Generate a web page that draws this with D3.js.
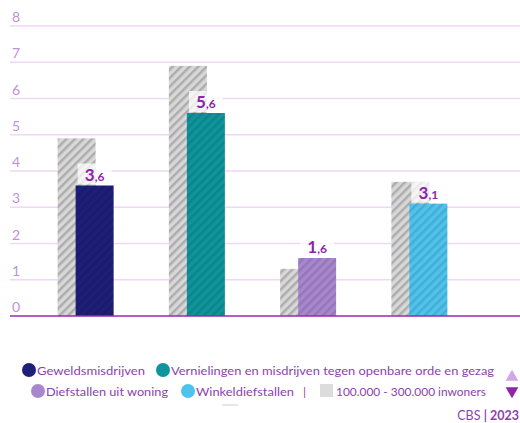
<!DOCTYPE html>
<html><head><meta charset="utf-8">
<script src="https://cdn.jsdelivr.net/npm/d3@7"></script>
<style>
body{margin:0;background:#fff;}
svg{display:block;font-family:Lato, "Open Sans", sans-serif;}
</style></head>
<body>
<svg id="c" width="520" height="423"></svg>
<script>
const categories = ["Geweldsmisdrijven","Vernielingen en misdrijven tegen openbare orde en gezag","Diefstallen uit woning","Winkeldiefstallen"];
const values = [3.6, 5.6, 1.6, 3.1];
const compareValues = [4.9, 6.9, 1.3, 3.7];
const colors = ["#1e1f78","#0e959c","#a987cf","#4ec3ee"];
const yTicks = [0,1,2,3,4,5,6,7,8];
const compareLabel = "100.000 - 300.000 inwoners";
const source = "CBS";
const year = "2023";

const svg = d3.select("#c");
const defs = svg.append("defs");
function hatch(id, base, stripe, sw){
  const p = defs.append("pattern").attr("id",id).attr("patternUnits","userSpaceOnUse")
    .attr("width",6).attr("height",6).attr("patternTransform","rotate(45)");
  p.append("rect").attr("width",6).attr("height",6).attr("fill",base);
  p.append("rect").attr("width",sw).attr("height",6).attr("fill",stripe);
}
hatch("hg","#d8d8d8","#adadad",2.5);
colors.forEach((c,i)=>hatch("h"+i,c,d3.color(c).darker(0.35).formatHex(),2.5));

const y = d3.scaleLinear().domain([0,8]).range([316,26]);
const x = d3.scaleBand().domain(categories).range([30,475]).paddingInner(0).paddingOuter(0);
const bw = 38, off = 18;

// grid
svg.append("g").selectAll("line").data(yTicks.slice(1)).join("line")
  .attr("x1",10).attr("x2",520).attr("y1",d=>y(d)).attr("y2",d=>y(d))
  .attr("stroke","#f0d7f5").attr("stroke-width",1.5);
svg.append("g").selectAll("text").data(yTicks).join("text")
  .attr("x",12).attr("y",d=>y(d)-4).attr("fill","#c390d8").attr("font-size",14).text(d=>d);

const g = svg.append("g");
categories.forEach((c,i)=>{
  const cx = x(c)+x.bandwidth()/2;
  const gx = cx - (bw+off)/2;
  g.append("rect").attr("x",gx).attr("width",bw).attr("y",y(compareValues[i])).attr("height",y(0)-y(compareValues[i])).attr("fill","url(#hg)");
  g.append("rect").attr("x",gx+off).attr("width",bw).attr("y",y(values[i])).attr("height",y(0)-y(values[i])).attr("fill","url(#h"+i+")");
  const lx = gx+off+bw/2;
  const parts = d3.format(".1f")(values[i]).split(".");
  g.append("rect").attr("x",lx-17).attr("y",y(values[i])-22).attr("width",34).attr("height",21).attr("fill","rgba(255,255,255,0.75)");
  const t = g.append("text").attr("x",lx).attr("y",y(values[i])-5).attr("text-anchor","middle")
    .attr("fill","#8e24aa").attr("font-weight","bold");
  t.append("tspan").attr("font-size",17).text(parts[0]);
  t.append("tspan").attr("font-size",12).text(","+parts[1]);
});

svg.append("line").attr("x1",10).attr("x2",520).attr("y1",y(0)).attr("y2",y(0)).attr("stroke","#9c27b0").attr("stroke-width",1.5);

// legend
const lg = svg.append("g").attr("font-size",12.2).attr("fill","#8e3fae");
function item(xc, yc, color, label, w){
  lg.append("circle").attr("cx",xc).attr("cy",yc).attr("r",7).attr("fill",color);
  lg.append("text").attr("x",xc+8).attr("y",yc+5).attr("textLength",w).attr("lengthAdjust","spacingAndGlyphs").text(label);
}
item(29,370,colors[0],categories[0],108);
item(163,370,colors[1],categories[1],323);
item(38,391,colors[2],categories[2],122);
item(188,391,colors[3],categories[3],98);
lg.append("text").attr("x",303).attr("y",396).text("|");
lg.append("rect").attr("x",320).attr("y",384).attr("width",13).attr("height",13).attr("fill","#dcdcdc");
lg.append("text").attr("x",336).attr("y",396).attr("textLength",150).attr("lengthAdjust","spacingAndGlyphs").text(compareLabel);
lg.append("path").attr("d",d3.symbol(d3.symbolTriangle,70)()).attr("transform","translate(512,377)").attr("fill","#d5a6e6");
lg.append("path").attr("d",d3.symbol(d3.symbolTriangle,70)()).attr("transform","translate(512,391) rotate(180)").attr("fill","#8e24aa");
svg.append("rect").attr("x",222).attr("y",404).attr("width",16).attr("height",2).attr("fill","#e6e6e6");

const st = svg.append("text").attr("x",519).attr("y",420).attr("text-anchor","end").attr("font-size",12.5).attr("fill","#8e3fae");
st.append("tspan").text(source+" ");
st.append("tspan").attr("font-weight","bold").text("| "+year);
</script>
</body></html>
